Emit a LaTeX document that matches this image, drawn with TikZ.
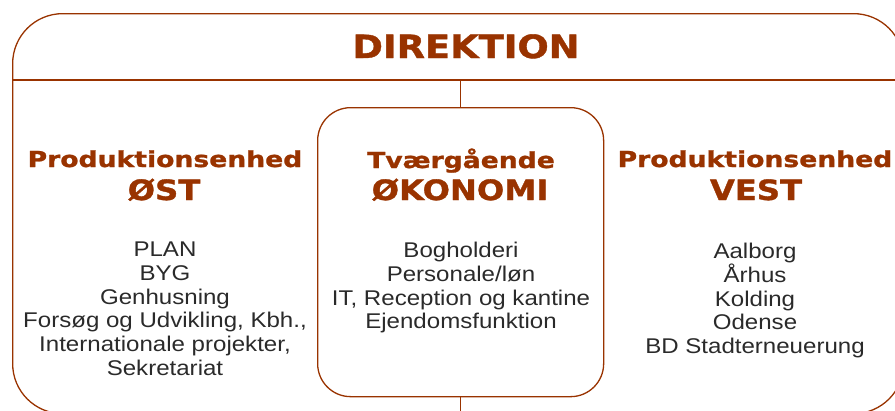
\documentclass[tikz,border=0pt]{standalone}
\usepackage{fontspec}
\setmainfont{Liberation Sans}[FakeStretch=1.13]
\newfontfamily\headfont{DejaVu Sans Bold}[FakeStretch=1.15, FakeBold=1.2]
\newfontfamily\unitfont{DejaVu Sans Bold}[FakeStretch=1.21, FakeBold=1.2]
\definecolor{rust}{HTML}{993300}
\definecolor{listgray}{HTML}{2A2A2A}
\tikzset{
    frame/.style = {draw=rust, line width=1.3pt, rounded corners=50pt, inner sep=0pt},
    unitbox/.style = {draw=rust, line width=1.3pt, rounded corners=33pt, inner sep=0pt,
        minimum width=286pt, minimum height=289pt},
    title/.style = {font=\headfont\fontsize{32}{32}\selectfont, text=rust, inner sep=0pt, anchor=base},
    unithead/.style = {font=\unitfont\fontsize{22}{22}\selectfont, text=rust, inner sep=0pt, anchor=base},
    unitname/.style = {font=\headfont\fontsize{28}{28}\selectfont, text=rust, inner sep=0pt, anchor=base},
    unitlist/.style = {font=\fontsize{21.3}{23.7}\selectfont, text=listgray, align=center, inner sep=0pt, anchor=north},
    link/.style = {draw=rust, line width=1.3pt},
}

\begin{document}
\begin{tikzpicture}[x=1pt,y=-1pt]
    \useasboundingbox (0,0) rectangle (895,410);
    \clip (0,0) rectangle (895,410);

    % outer frame and header
    \node[frame, minimum width=891pt, minimum height=400pt, anchor=north west] (direktion) at (12,13) {};
    \coordinate(divW) at (12,80);
    \coordinate(divE) at (903,80);
    \draw [link] (divW)--(divE);
    \node[title] (dirtitle) at (466,58) {DIREKTION};

    % middle unit
    \node[unitbox, anchor=north west] (okonomi) at (317,107) {};
    \coordinate(divC) at (okonomi.north |- divW);
    \coordinate(belowC) at (okonomi.south |- 0,420);
    \draw [link] (divC)--(okonomi.north);
    \draw [link] (okonomi.south)--(belowC);

    \node[unithead] (okohead) at (461,168) {Tværgående};
    \node[unitname] (okoname) at (460,200) {ØKONOMI};
    \node[unitlist] (okolist) at (461,242) {Bogholderi\\Personale/løn\\IT, Reception og kantine\\Ejendomsfunktion};

    % east unit
    \node[unithead] (osthead) at (165,167) {Produktionsenhed};
    \node[unitname] (ostname) at (164,200) {ØST};
    \node[unitlist] (ostlist) at (165,242) {PLAN\\BYG\\Genhusning\\Forsøg og Udvikling, Kbh.,\\Internationale projekter,\\Sekretariat};

    % west unit
    \node[unithead] (vesthead) at (755,167) {Produktionsenhed};
    \node[unitname] (vestname) at (756,200) {VEST};
    \node[unitlist] (vestlist) at (755,243) {Aalborg\\Århus\\Kolding\\Odense\\BD Stadterneuerung};

\end{tikzpicture}
\end{document}
